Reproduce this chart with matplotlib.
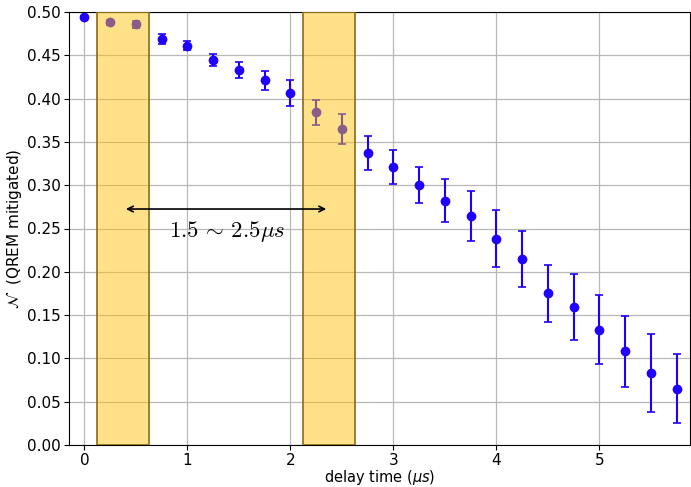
import matplotlib
matplotlib.use("Agg")
import matplotlib.pyplot as plt
import numpy as np

delay = np.arange(24) * 0.25
neg = [0.494, 0.488, 0.486, 0.469, 0.461, 0.445, 0.433, 0.421, 0.406, 0.384, 0.365, 0.337,
       0.321, 0.300, 0.282, 0.264, 0.238, 0.215, 0.175, 0.159, 0.133, 0.108, 0.083, 0.065]
err = [0.001, 0.003, 0.004, 0.006, 0.005, 0.007, 0.009, 0.011, 0.015, 0.014, 0.017, 0.020,
       0.020, 0.021, 0.025, 0.029, 0.033, 0.032, 0.033, 0.038, 0.040, 0.041, 0.045, 0.040]
spans = [(0.125, 0.625), (2.125, 2.625)]
arrow_x = (0.375, 2.375)
arrow_y = 0.2725
label = r"$1.5\,\sim\,2.5\mu s$"

fig = plt.figure(figsize=(6.91, 4.87), dpi=100)
ax = fig.add_axes([69/691, 1-445/487, (690-69)/691, (445-12)/487])

ax.errorbar(delay, neg, yerr=err, fmt='o', color='#1f00ff', ecolor='#1f00ff',
            markersize=6, capsize=3, elinewidth=1.5, capthick=1.2, zorder=2)
for a, b in spans:
    ax.axvspan(a, b, facecolor=(1.0, 0.76, 0.03, 0.48), edgecolor='#8c6a14',
               linewidth=1.2, zorder=3)

ax.annotate('', xy=(arrow_x[1], arrow_y), xytext=(arrow_x[0], arrow_y),
            arrowprops=dict(arrowstyle='<->', color='k', lw=1.2))
ax.text(sum(arrow_x)/2 + 0.01, 0.246, label, fontsize=16.5, ha='center', va='center',
        math_fontfamily='cm')

ax.set_xlim(-0.15, 5.88)
ax.set_ylim(0, 0.5)
ax.set_yticks(np.arange(0, 0.51, 0.05))
ax.tick_params(labelsize=11, pad=2.5)
ax.grid(True, color='#b8b8b8', linewidth=0.9)
ax.set_axisbelow(True)
ax.set_xlabel(r'delay time ($\mu s$)', fontsize=10.5, labelpad=0)
ax.set_ylabel(r'$\mathcal{N}$  (QREM mitigated)', fontsize=11, labelpad=2)

fig.savefig('out.png', dpi=100)
